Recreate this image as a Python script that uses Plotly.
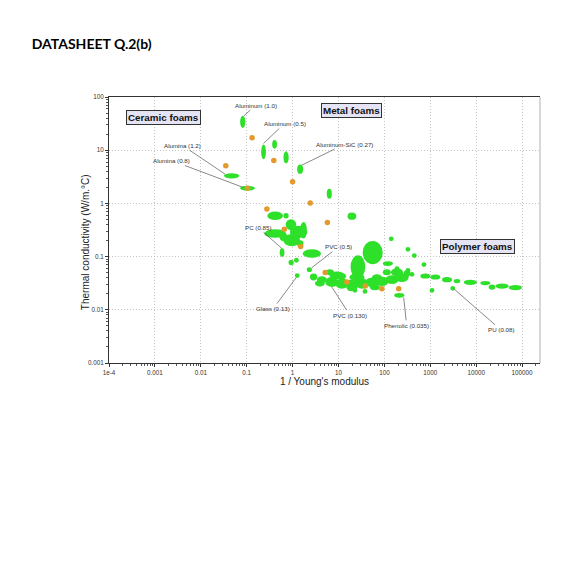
import numpy as np
import plotly.graph_objects as go

# green bubbles: centre of 1/E and conductivity, plus range factor (hi/lo) on each axis
green_inv_modulus = [
    0.082, 0.233, 0.405, 0.72, 1.46, 0.047, 0.104, 6.3, 19.6, 0.417,
    0.72, 0.92, 0.417, 1.35, 1.73, 0.96, 0.635, 1.46, 0.59, 2.63,
    0.93, 1.21, 2.32, 1.26, 55.5, 26.5, 141, 326, 448, 728,
    119, 188, 326, 399, 211, 1089, 3076, 22.8, 37.7,
    2.86, 4.35, 7.18, 11.9, 19.6, 32.4, 53.5, 88.3, 146, 241,
    310, 778, 1285, 2312, 3819, 7447, 15800, 22100, 36600, 71300,
    6.49, 11.9, 113, 68.7, 9.23, 25.2, 188, 3.93, 19.6, 62.2,
]
green_conductivity = [
    34, 9.3, 12.9, 7.3, 4.4, 3.3, 1.93, 1.52, 0.574, 0.586,
    0.586, 0.40, 0.271, 0.29, 0.313, 0.203, 0.234, 0.176, 0.119, 0.114,
    0.0774, 0.085, 0.0569, 0.0439, 0.119, 0.0637, 0.216, 0.137, 0.1045, 0.0707,
    0.0738, 0.0594, 0.0552, 0.0464, 0.0187, 0.0232, 0.0253, 0.0232, 0.0222,
    0.0413, 0.0369, 0.0333, 0.031, 0.0297, 0.031, 0.0328, 0.0343, 0.0369, 0.0403,
    0.0479, 0.0431, 0.0413, 0.0369, 0.0347, 0.0328, 0.0318, 0.0267, 0.0279, 0.0261,
    0.0506, 0.0426, 0.0506, 0.0407, 0.0445, 0.0407, 0.0506, 0.0314, 0.0253, 0.0264,
]
green_modulus_span = [
    1.3, 1.27, 1.27, 1.3, 1.35, 2.16, 2.1, 1.29, 1.55, 2.2,
    1.3, 1.7, 3.0, 2.4, 1.4, 2.3, 1.5, 1.4, 1.27, 2.5,
    1.3, 1.27, 1.3, 1.27, 2.73, 2.09, 1.27, 1.27, 1.27, 1.27,
    1.65, 1.27, 1.27, 1.27, 1.65, 1.27, 1.27, 1.27, 1.27,
    1.44, 1.65, 1.95, 1.95, 1.95, 1.95, 1.95, 1.95, 1.95, 1.95,
    1.4, 1.65, 1.65, 1.65, 1.4, 1.95, 1.65, 1.4, 1.95, 1.95,
    1.5, 1.5, 1.5, 1.65, 2.12, 2.12, 1.83, 1.65, 1.65, 1.65,
]
green_conductivity_span = [
    1.7, 1.9, 1.46, 1.7, 1.5, 1.26, 1.23, 1.54, 1.37, 1.45,
    1.26, 1.6, 1.45, 1.7, 2.06, 1.7, 1.45, 1.34, 1.46, 1.45,
    1.26, 1.24, 1.23, 1.23, 2.75, 2.75, 1.23, 1.23, 1.23, 1.23,
    1.23, 1.23, 1.23, 1.23, 1.23, 1.23, 1.23, 1.23, 1.23,
    1.35, 1.35, 1.55, 1.55, 1.55, 1.55, 1.5, 1.5, 1.45, 1.45,
    1.34, 1.25, 1.25, 1.25, 1.2, 1.25, 1.2, 1.25, 1.25, 1.25,
    1.3, 1.3, 1.3, 1.3, 1.4, 1.4, 1.41, 1.3, 1.28, 1.28,
]

orange_inv_modulus = [0.131, 0.39, 1.0, 0.035, 0.104, 2.42, 5.73, 0.275,
                      0.66, 1.5, 5.13, 15.2, 38.2, 88.3, 205]
orange_conductivity = [17.1, 6.43, 2.54, 5.08, 1.93, 1.02, 0.437, 0.788,
                       0.327, 0.155, 0.05, 0.0333, 0.0279, 0.0249, 0.0249]

label_text = ["Aluminum (1.0)", "Aluminum (0.5)", "Aluminum-SiC (0.27)",
              "Alumina (1.2)", "Alumina (0.8)", "PC (0.85)", "PVC (0.5)",
              "Glass (0.13)", "PVC (0.130)", "Phenolic (0.035)", "PU (0.08)"]
label_inv_modulus = [0.0865, 0.233, 1.59, 0.0338, 0.0853, 0.583, 2.63,
                     1.2, 7.18, 263, 3236]
label_conductivity = [43.9, 13.4, 5.24, 3.55, 1.99, 0.143, 0.0621,
                      0.0403, 0.0267, 0.0171, 0.0249]
label_offsets = [(12, -11), (21, -20), (43, -21), (-43, -29), (-72, -27),
                 (-24, -21), (27, -21), (-23, 31), (18, 28), (3, 28), (47, 41)]

group_text = ["Ceramic foams", "Metal foams", "Polymer foams"]
group_inv_modulus = [0.00153, 19.6, 10600]
group_conductivity = [40.6, 55.2, 0.152]

x_tick_vals = [1e-4, 1e-3, 1e-2, 0.1, 1, 10, 100, 1000, 1e4, 1e5]
x_tick_text = ["1e-4", "0.001", "0.01", "0.1", "1", "10", "100", "1000", "10000", "100000"]
y_tick_vals = [0.001, 0.01, 0.1, 1, 10, 100]
y_tick_text = ["0.001", "0.01", "0.1", "1", "10", "100"]

GREEN = "#2fe02a"
ORANGE = "#e39a2d"
FONT = "Liberation Sans, Arial"

fig = go.Figure()

shapes = []
for xc, yc, fx, fy in zip(green_inv_modulus, green_conductivity,
                          green_modulus_span, green_conductivity_span):
    shapes.append(dict(type="circle", xref="x", yref="y", layer="between",
                       x0=xc / np.sqrt(fx), x1=xc * np.sqrt(fx),
                       y0=yc / np.sqrt(fy), y1=yc * np.sqrt(fy),
                       fillcolor=GREEN, line=dict(width=0)))
# light right border
shapes.append(dict(type="line", xref="paper", yref="paper", x0=1, x1=1, y0=0, y1=1,
                   line=dict(color="#b0b0b0", width=1)))

fig.add_trace(go.Scatter(
    x=orange_inv_modulus, y=orange_conductivity, mode="markers",
    marker=dict(color=ORANGE, size=5.5, line=dict(width=0)),
    showlegend=False, hoverinfo="x+y",
))

annotations = []
for txt, xv, yv, (ax, ay) in zip(label_text, label_inv_modulus, label_conductivity, label_offsets):
    annotations.append(dict(
        x=np.log10(xv), y=np.log10(yv), xref="x", yref="y", text=txt,
        showarrow=True, arrowhead=0, arrowwidth=0.7, arrowcolor="#555555",
        ax=ax, ay=ay, font=dict(family=FONT, size=6.2, color="#333333"),
    ))
for txt, xv, yv in zip(group_text, group_inv_modulus, group_conductivity):
    annotations.append(dict(
        x=np.log10(xv), y=np.log10(yv), xref="x", yref="y", text="<b>" + txt + "</b>",
        showarrow=False, bgcolor="#e4e4f4", bordercolor="#333333", borderwidth=1,
        borderpad=1, font=dict(family=FONT, size=9.8, color="#111111"),
    ))
# y-axis title sits a little below the middle of the axis in the original
annotations.append(dict(
    text="Thermal conductivity (W/m.°C)", xref="paper", yref="paper", x=-0.053, y=0.455,
    textangle=-90, showarrow=False, xanchor="center", yanchor="middle",
    font=dict(family=FONT, size=10, color="#222222"),
))

minor_x = [m * 10.0 ** e for e in range(-4, 6) for m in range(2, 10)]
minor_y = [m * 10.0 ** e for e in range(-3, 2) for m in range(2, 10)]

# page body has an 8px margin, so the figure is sized and offset for it
fig.update_layout(
    width=579, height=553,
    margin=dict(l=101, r=47, t=89, b=198),
    paper_bgcolor="white", plot_bgcolor="white",
    title=dict(text="<b>DATASHEET Q.2(b)</b>", xref="container", yref="container",
               x=0.041, xanchor="left", y=0.934, yanchor="middle",
               font=dict(family="Lato, Liberation Sans, Arial", size=14, color="black")),
    shapes=shapes,
    annotations=annotations,
    showlegend=False,
)
fig.update_xaxes(
    type="log", range=[-4, 5.39], tickmode="array", tickvals=x_tick_vals, ticktext=x_tick_text,
    ticks="outside", ticklen=3, tickcolor="#333333", tickwidth=1,
    minor=dict(ticks="outside", ticklen=2, tickcolor="#555555", tickvals=minor_x, showgrid=False),
    showline=True, linecolor="#333333", linewidth=1, mirror=True,
    showgrid=True, gridcolor="#c4c4c4", griddash="1px,2px", gridwidth=1, zeroline=False,
    tickfont=dict(family=FONT, size=6.3, color="#333333"),
    title=dict(text="1 / Young's modulus", standoff=3,
               font=dict(family=FONT, size=10, color="#222222")),
)
fig.update_yaxes(
    type="log", range=[-3, 2], tickmode="array", tickvals=y_tick_vals, ticktext=y_tick_text,
    ticks="outside", ticklen=3, tickcolor="#333333", tickwidth=1,
    minor=dict(ticks="outside", ticklen=2, tickcolor="#555555", tickvals=minor_y, showgrid=False),
    showline=True, linecolor="#333333", linewidth=1, mirror=False,
    showgrid=True, gridcolor="#c4c4c4", griddash="1px,2px", gridwidth=1, zeroline=False,
    tickfont=dict(family=FONT, size=6.3, color="#333333"),
)

fig.write_html("out.html")
